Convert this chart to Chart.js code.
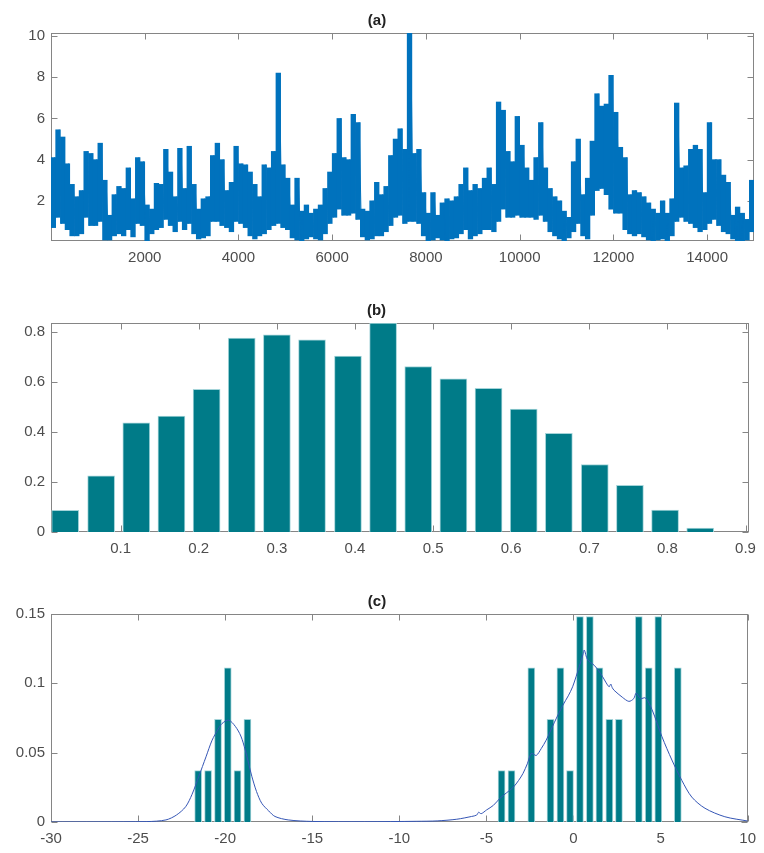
<!DOCTYPE html>
<html>
<head>
<meta charset="utf-8">
<script src="https://cdn.jsdelivr.net/npm/chart.js@4.4.1/dist/chart.umd.min.js"></script>
<style>
  html, body { margin: 0; padding: 0; background: #fff; }
  canvas { position: absolute; left: 0; }
</style>
</head>
<body>
<canvas id="pa" width="764" height="267" style="top:0px"></canvas>
<canvas id="pb" width="764" height="268" style="top:290px"></canvas>
<canvas id="pc" width="764" height="267" style="top:581px"></canvas>
<script>
// ---------- (a) signal: lowest / highest level inside each 100-sample window ----------
const seriesStep = 100;
const seriesLow = [
  0.7, 1.2, 0.9, 0.6, 0.3, 0.3, 0.4, 1.2, 0.8, 0.8,
  1.0, 0.1, 0.1, 0.3, 0.4, 0.3, 0.6, 0.25, 0.9, 0.8,
  0.05, 0.4, 0.6, 0.7, 1.1, 0.8, 0.5, 1.0, 0.6, 0.9,
  0.4, 0.15, 0.2, 0.3, 1.0, 1.0, 0.8, 0.7, 0.5, 1.0,
  0.9, 0.7, 0.3, 0.15, 0.3, 0.4, 0.6, 0.8, 0.9, 0.7,
  0.6, 0.2, 0.1, 0.05, 0.15, 0.25, 0.15, 0.1, 0.4, 0.9,
  1.2, 1.6, 1.3, 1.3, 1.4, 1.1, 0.25, 0.1, 0.15, 0.3,
  0.3, 0.5, 0.8, 1.2, 1.3, 0.9, 1.0, 1.0, 0.9, 0.3,
  0.05, 0.1, 0.2, 0.1, 0.05, 0.15, 0.2, 0.4, 0.6, 0.15,
  0.3, 0.4, 0.6, 0.6, 0.5, 1.0, 1.6, 1.2, 1.2, 1.3,
  1.2, 1.2, 1.2, 1.1, 1.3, 1.0, 0.5, 0.3, 0.15, 0.05,
  0.2, 0.5, 0.9, 0.3, 0.15, 1.3, 2.5, 2.6, 2.3, 1.6,
  1.4, 1.4, 0.6, 0.4, 0.3, 0.4, 0.25, 0.1, 0.05, 0.1,
  0.15, 0.05, 0.3, 1.0, 1.2, 1.0, 0.9, 0.7, 0.5, 0.6,
  0.9, 1.1, 0.8, 0.5, 0.4, 0.15, 0.05, 0.05, 0.1, 0.5
];
const seriesHigh = [
  4.1, 5.45, 5.1, 3.8, 2.8, 2.2, 2.5, 4.4, 4.3, 4.0,
  4.8, 3.0, 1.3, 2.3, 2.7, 2.6, 3.6, 2.1, 4.1, 3.9,
  1.8, 1.6, 2.85, 2.8, 4.5, 3.4, 2.2, 4.55, 2.6, 4.65,
  2.8, 1.6, 2.1, 2.2, 4.2, 4.8, 4.0, 2.5, 2.9, 4.65,
  3.8, 3.75, 3.4, 2.8, 2.2, 3.75, 3.6, 4.4, 8.2, 3.75,
  3.1, 1.8, 3.1, 1.5, 1.8, 1.4, 1.6, 1.8, 2.6, 3.4,
  4.3, 6.0, 4.1, 4.0, 6.2, 5.8, 1.6, 1.5, 2.0, 2.9,
  2.3, 2.7, 4.2, 5.0, 5.5, 4.5, 10.15, 4.3, 4.5, 2.4,
  1.4, 2.4, 1.3, 1.9, 2.1, 2.0, 2.2, 2.8, 3.6, 2.5,
  2.8, 2.6, 3.1, 3.6, 2.8, 6.8, 6.4, 4.4, 3.9, 6.1,
  4.7, 3.6, 3.0, 4.1, 5.8, 3.6, 2.6, 2.2, 2.0, 1.5,
  1.2, 3.9, 5.0, 2.3, 3.1, 4.9, 7.2, 6.6, 6.7, 8.1,
  6.3, 4.6, 4.1, 2.3, 2.5, 2.4, 2.2, 1.9, 1.6, 1.4,
  2.0, 1.4, 2.1, 6.75, 3.6, 3.7, 4.5, 4.7, 4.5, 2.4,
  5.8, 4.0, 4.0, 3.25, 2.9, 1.3, 1.7, 1.4, 1.1, 3.0
];
const seriesTicksX = [2000, 4000, 6000, 8000, 10000, 12000, 14000];
const seriesTicksY = [2, 4, 6, 8, 10];

// ---------- (b) histogram ----------
const histCenters = [
  0.029, 0.075, 0.120, 0.165, 0.210, 0.255, 0.300, 0.345, 0.391, 0.436,
  0.481, 0.526, 0.571, 0.616, 0.661, 0.707, 0.752, 0.797, 0.842, 0.887
];
const histValues = [
  0.087, 0.225, 0.437, 0.464, 0.571, 0.776, 0.789, 0.769, 0.704, 0.836,
  0.662, 0.613, 0.575, 0.492, 0.395, 0.270, 0.187, 0.088, 0.016, 0
];
const histTicksX = [0.1, 0.2, 0.3, 0.4, 0.5, 0.6, 0.7, 0.8, 0.9];
const histTicksY = [0, 0.2, 0.4, 0.6, 0.8];

// ---------- (c) sample frequencies and density estimate ----------
const binCenters = [
  -21.55, -20.98, -20.41, -19.85, -19.29, -18.72,
  -4.13, -3.56, -2.42, -1.32, -0.75, -0.20, 0.37, 0.94, 1.49, 2.06, 2.61, 3.75, 4.32, 4.87, 5.99
];
const binValues = [
  0.0370, 0.0370, 0.0741, 0.1111, 0.0370, 0.0741,
  0.0370, 0.0370, 0.1111, 0.0741, 0.1111, 0.0370, 0.1481, 0.1481, 0.1111, 0.0741, 0.0741, 0.1481, 0.1111, 0.1481, 0.1111
];
const densityX = [
  -30, -24.5, -23.4, -22.8, -22.27, -21.9, -21.51, -21.1, -20.75, -20.4,
  -20.18, -19.8, -19.42, -19.1, -18.85, -18.47, -18.2, -17.9, -17.5, -17.14,
  -16.38, -15, -12, -9, -7.83, -6.7, -5.85, -5.56, -5.45, -5.3,
  -4.99, -4.6, -4.23, -3.85, -3.46, -3.15, -2.9, -2.65, -2.42, -2.14,
  -1.85, -1.57, -1.09, -0.62, -0.3, -0.05, 0.33, 0.55, 0.62, 0.81,
  1.19, 1.45, 1.66, 2.04, 2.14, 2.22, 2.33, 2.8, 3.18, 3.46,
  3.6, 3.85, 4.13, 4.51, 5.08, 5.65, 6.22, 6.79, 7.55, 8.69, 10
];
const densityY = [
  0, 0.0003, 0.0015, 0.005, 0.011, 0.02, 0.033, 0.047, 0.059, 0.067,
  0.071, 0.0735, 0.069, 0.062, 0.052, 0.033, 0.022, 0.0135, 0.008, 0.004,
  0.0015, 0.0004, 0.0002, 0.0005, 0.0008, 0.002, 0.004, 0.005, 0.007, 0.006,
  0.0087, 0.012, 0.017, 0.021, 0.025, 0.030, 0.035, 0.042, 0.0495, 0.048,
  0.053, 0.059, 0.072, 0.084, 0.091, 0.0975, 0.112, 0.121, 0.124, 0.117,
  0.113, 0.109, 0.105, 0.0975, 0.0995, 0.097, 0.095, 0.090, 0.087, 0.089,
  0.093, 0.089, 0.0895, 0.081, 0.0615, 0.0447, 0.030, 0.018, 0.0099, 0.0038, 0.0007
];
const densTicksX = [-30, -25, -20, -15, -10, -5, 0, 5, 10];
const densTicksY = [0, 0.05, 0.1, 0.15];

// ---------- shared styling ----------
Chart.defaults.font.family = "'Liberation Sans', Arial, Helvetica, sans-serif";
Chart.defaults.font.size = 15;
Chart.defaults.color = '#4d4d4d';

// box around the plot area with inward tick marks on all four sides
const framePlugin = {
  id: 'frame',
  beforeDatasetsDraw(chart) {
    const { ctx, chartArea: a, scales } = chart;
    const x = scales.x, y = scales.y;
    const L = Math.round(a.left) + 0.5, R = Math.round(a.right) - 0.5;
    const T = Math.round(a.top) + 0.5, B = Math.round(a.bottom) - 0.5;
    const len = 6;
    ctx.save();
    ctx.strokeStyle = '#858585';
    ctx.lineWidth = 1;
    ctx.strokeRect(L, T, R - L, B - T);
    ctx.beginPath();
    x.ticks.forEach(t => {
      const p = Math.round(x.getPixelForValue(t.value)) + 0.5;
      ctx.moveTo(p, B); ctx.lineTo(p, B - len);
      ctx.moveTo(p, T); ctx.lineTo(p, T + len);
    });
    y.ticks.forEach(t => {
      const p = Math.round(y.getPixelForValue(t.value)) + 0.5;
      ctx.moveTo(L, p); ctx.lineTo(L + len, p);
      ctx.moveTo(R, p); ctx.lineTo(R - len, p);
    });
    ctx.stroke();
    ctx.restore();
  }
};

function axis(min, max, tickValues, isX) {
  return {
    type: 'linear', min, max, offset: false,
    grid: { display: false, drawTicks: false, offset: false },
    border: { display: false },
    afterBuildTicks: s => { s.ticks = tickValues.map(v => ({ value: v })); },
    afterFit: s => { if (isX) s.height = 26; else s.width = 51; },
    ticks: {
      padding: isX ? 8 : 6, maxRotation: 0, autoSkip: false,
      callback: v => String(+Number(v).toFixed(4))
    }
  };
}

function baseOptions(title, xAxis, yAxis, rightPad) {
  return {
    responsive: false, animation: false,
    layout: { padding: { left: 0, right: rightPad, top: 0, bottom: 0 } },
    plugins: {
      legend: { display: false },
      tooltip: { enabled: false },
      title: {
        display: true, text: title, color: '#222',
        font: { size: 15, weight: 'bold' },
        padding: { top: 12, bottom: 3 }
      }
    },
    scales: { x: xAxis, y: yAxis }
  };
}

// ---------- (a) ----------
// each window: a vertical stroke over its range, joined by the trace of its extremes
const seriesX = seriesLow.map((_, k) => k * seriesStep + seriesStep / 2);
const tracePoints = [];
seriesLow.forEach((lo, k) => {
  tracePoints.push({ x: k * seriesStep + 25, y: lo });
  tracePoints.push({ x: k * seriesStep + 75, y: seriesHigh[k] });
});
new Chart(document.getElementById('pa'), {
  type: 'bar',
  data: { datasets: [
    {
      type: 'line', order: 0,
      data: tracePoints, borderColor: '#0072bd', borderWidth: 1,
      pointRadius: 0, tension: 0, fill: false
    },
    {
      type: 'bar', order: 1,
      data: seriesX.map((x, k) => ({ x, y: [seriesLow[k], seriesHigh[k]] })),
      backgroundColor: '#0072bd', borderWidth: 0,
      barPercentage: 1, categoryPercentage: 1
    }
  ] },
  options: baseOptions('(a)', axis(0, 15000, seriesTicksX, true), axis(0.05, 10.15, seriesTicksY, false), 10),
  plugins: [framePlugin]
});

// ---------- (b) ----------
new Chart(document.getElementById('pb'), {
  type: 'bar',
  data: { datasets: [{
    data: histCenters.map((c, i) => ({ x: c, y: histValues[i] })),
    backgroundColor: '#007b88', borderColor: '#a4d4d9',
    borderWidth: { top: 1, right: 1, left: 1, bottom: 0 },
    barThickness: 27
  }] },
  options: baseOptions('(b)', axis(0.0108, 0.904, histTicksX, true), axis(0, 0.836, histTicksY, false), 11),
  plugins: [framePlugin]
});

// ---------- (c) ----------
new Chart(document.getElementById('pc'), {
  type: 'bar',
  data: { datasets: [
    {
      type: 'line',
      data: densityX.map((x, i) => ({ x, y: densityY[i] })),
      borderColor: '#3556b5', borderWidth: 1, pointRadius: 0, tension: 0.3, fill: false, order: 0
    },
    {
      type: 'bar',
      data: binCenters.map((c, i) => ({ x: c, y: binValues[i] })),
      backgroundColor: '#007b88', borderColor: '#a4d4d9',
      borderWidth: { top: 1, right: 1, left: 1, bottom: 0 },
      barThickness: 7, order: 1
    }
  ] },
  options: baseOptions('(c)', axis(-30, 10, densTicksX, true), axis(0, 0.15, densTicksY, false), 10),
  plugins: [framePlugin]
});
</script>
</body>
</html>
